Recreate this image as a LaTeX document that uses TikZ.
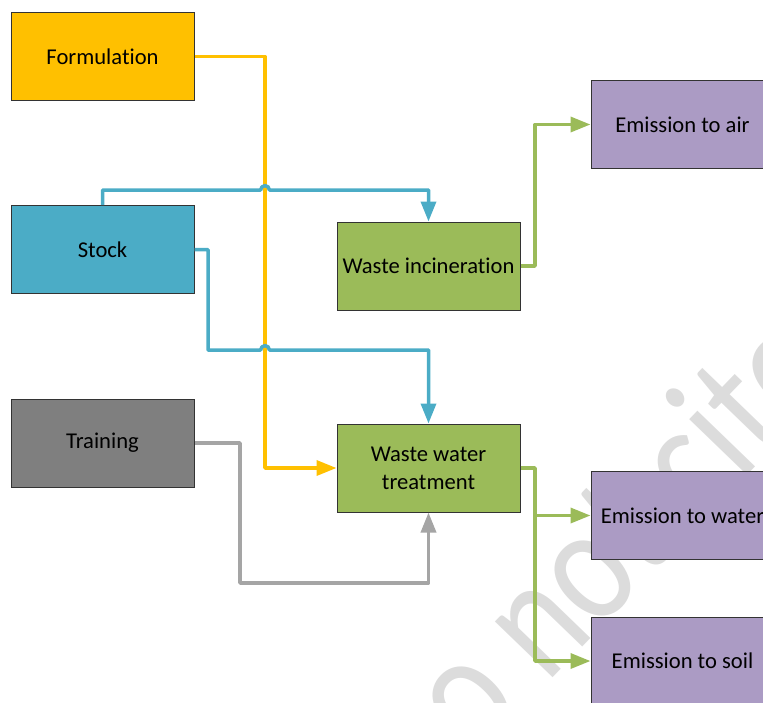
\documentclass[tikz,border=0pt]{standalone}
\usepackage{fontspec}
\setmainfont{Carlito}[Ligatures=NoCommon]
\usetikzlibrary{arrows.meta}
\definecolor{formorange}{HTML}{FFC000}
\definecolor{stockblue}{HTML}{4BACC6}
\definecolor{traingray}{HTML}{7F7F7F}
\definecolor{trainline}{HTML}{A5A5A5}
\definecolor{wastegreen}{HTML}{9BBB59}
\definecolor{emitpurple}{RGB}{171,155,196}
\definecolor{wmgray}{RGB}{220,220,220}
\tikzset{
  box/.style={draw=black!80, line width=0.5pt, minimum width=91.5pt, minimum height=44pt,
    align=center, inner sep=1pt, font=\fontsize{11.3}{14}\selectfont},
  link/.style={line width=1.75pt, line join=round, -{Triangle[length=10pt,width=7.5pt]}},
  hop/.style={start angle=180, end angle=0, radius=2.2pt}
}
\begin{document}
\begin{tikzpicture}[x=0.5pt,y=-0.5pt]
\clip (0,0) rectangle (763,702);
\node[rotate=46, xscale=0.82, anchor=base west, text=wmgray, inner sep=0pt,
  font=\fontsize{84}{84}\selectfont] (wm) at (415,820) {Do not cite};

\node[box, fill=formorange] (form) at (102.5,56.5) {Formulation};
\node[box, fill=stockblue] (stock) at (102.5,249.5) {Stock};
\node[box, fill=traingray] (train) at (102.5,443) {Training};
\node[box, fill=wastegreen] (incin) at (428.5,266) {Waste incineration};
\node[box, fill=wastegreen] (wwt) at (428.5,468) {Waste water\\treatment};
\node[box, fill=emitpurple] (air) at (682.5,124.5) {Emission to air};
\node[box, fill=emitpurple] (water) at (682.5,515.5) {Emission to water};
\node[box, fill=emitpurple] (soil) at (682.5,661) {Emission to soil};

\coordinate (fdrop) at (265,300);
\coordinate (hopA) at (260.6,190);
\coordinate (bendB) at (208,350);
\coordinate (hopB) at (260.6,350);
\coordinate (gcorner) at (240,583);
\coordinate (splitA) at (535,200);
\coordinate (splitB) at (535,490);

\draw[link, formorange] (form.east) -| (fdrop) |- (wwt.west);
\draw[link, stockblue] (stock.north) |- (hopA) arc[hop] -| (incin.north);
\draw[link, stockblue] (stock.east) -| (bendB) -- (hopB) arc[hop] -| (wwt.north);
\draw[link, trainline] (train.east) -| (gcorner) -| (wwt.south);
\draw[link, wastegreen] (incin.east) -| (splitA) |- (air.west);
\draw[link, wastegreen] (wwt.east) -| (splitB) |- (soil.west);
\draw[link, wastegreen] (splitB) |- (water.west);
\end{tikzpicture}
\end{document}
